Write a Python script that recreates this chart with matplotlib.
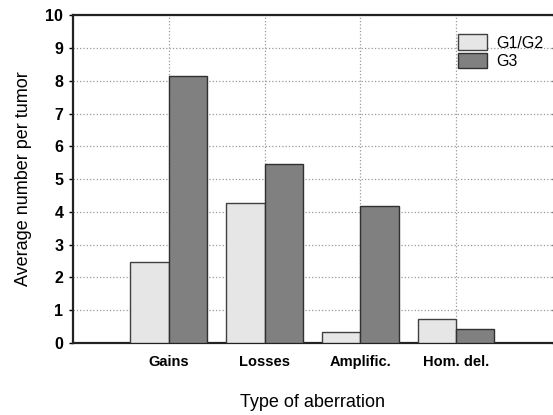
import numpy as np
import matplotlib.pyplot as plt

plt.rcParams['font.family'] = ['Liberation Sans', 'DejaVu Sans']

categories = ["Gains", "Losses", "Amplific.", "Hom. del."]
g1g2 = [2.47, 4.28, 0.33, 0.73]
g3 = [8.14, 5.45, 4.18, 0.44]

fig = plt.figure(figsize=(5.53, 4.15), dpi=100)
ax = fig.add_axes([0.132, 0.1735, 0.866, 0.79])

x = np.arange(1, len(categories) + 1)
w = 0.4
ax.bar(x - w / 2, g1g2, w, color="#e6e6e6", edgecolor="#404040", linewidth=1.0,
       label="G1/G2", zorder=3)
ax.bar(x + w / 2, g3, w, color="#808080", edgecolor="#303030", linewidth=1.0,
       label="G3", zorder=3)

ax.set_xlim(0, 5)
ax.set_ylim(0, 10)
ax.set_xticks(x)
ax.set_xticklabels(categories, fontweight="bold", fontsize=10.5)
ax.set_yticks(range(0, 11))
ax.set_yticklabels([str(i) for i in range(0, 11)], fontweight="bold", fontsize=11.5)
ax.tick_params(axis="x", length=0, pad=9)
ax.tick_params(axis="y", length=3, width=1, direction="out", right=True, pad=4)

ax.grid(True, color="#999999", linestyle=":", linewidth=0.9, zorder=0)

for s in ["left", "bottom", "top"]:
    ax.spines[s].set_linewidth(1.6)
    ax.spines[s].set_color("#222222")
ax.spines["right"].set_visible(False)

ax.set_xlabel("Type of aberration", fontsize=13, labelpad=18)
ax.set_ylabel("Average number per tumor", fontsize=13, labelpad=10)

ax.legend(loc="upper right", bbox_to_anchor=(1.012, 0.985), frameon=False,
          fontsize=11.5, handlelength=1.8, handleheight=1.1, labelspacing=0.15,
          handletextpad=0.6)

fig.savefig("out.png", dpi=100)
